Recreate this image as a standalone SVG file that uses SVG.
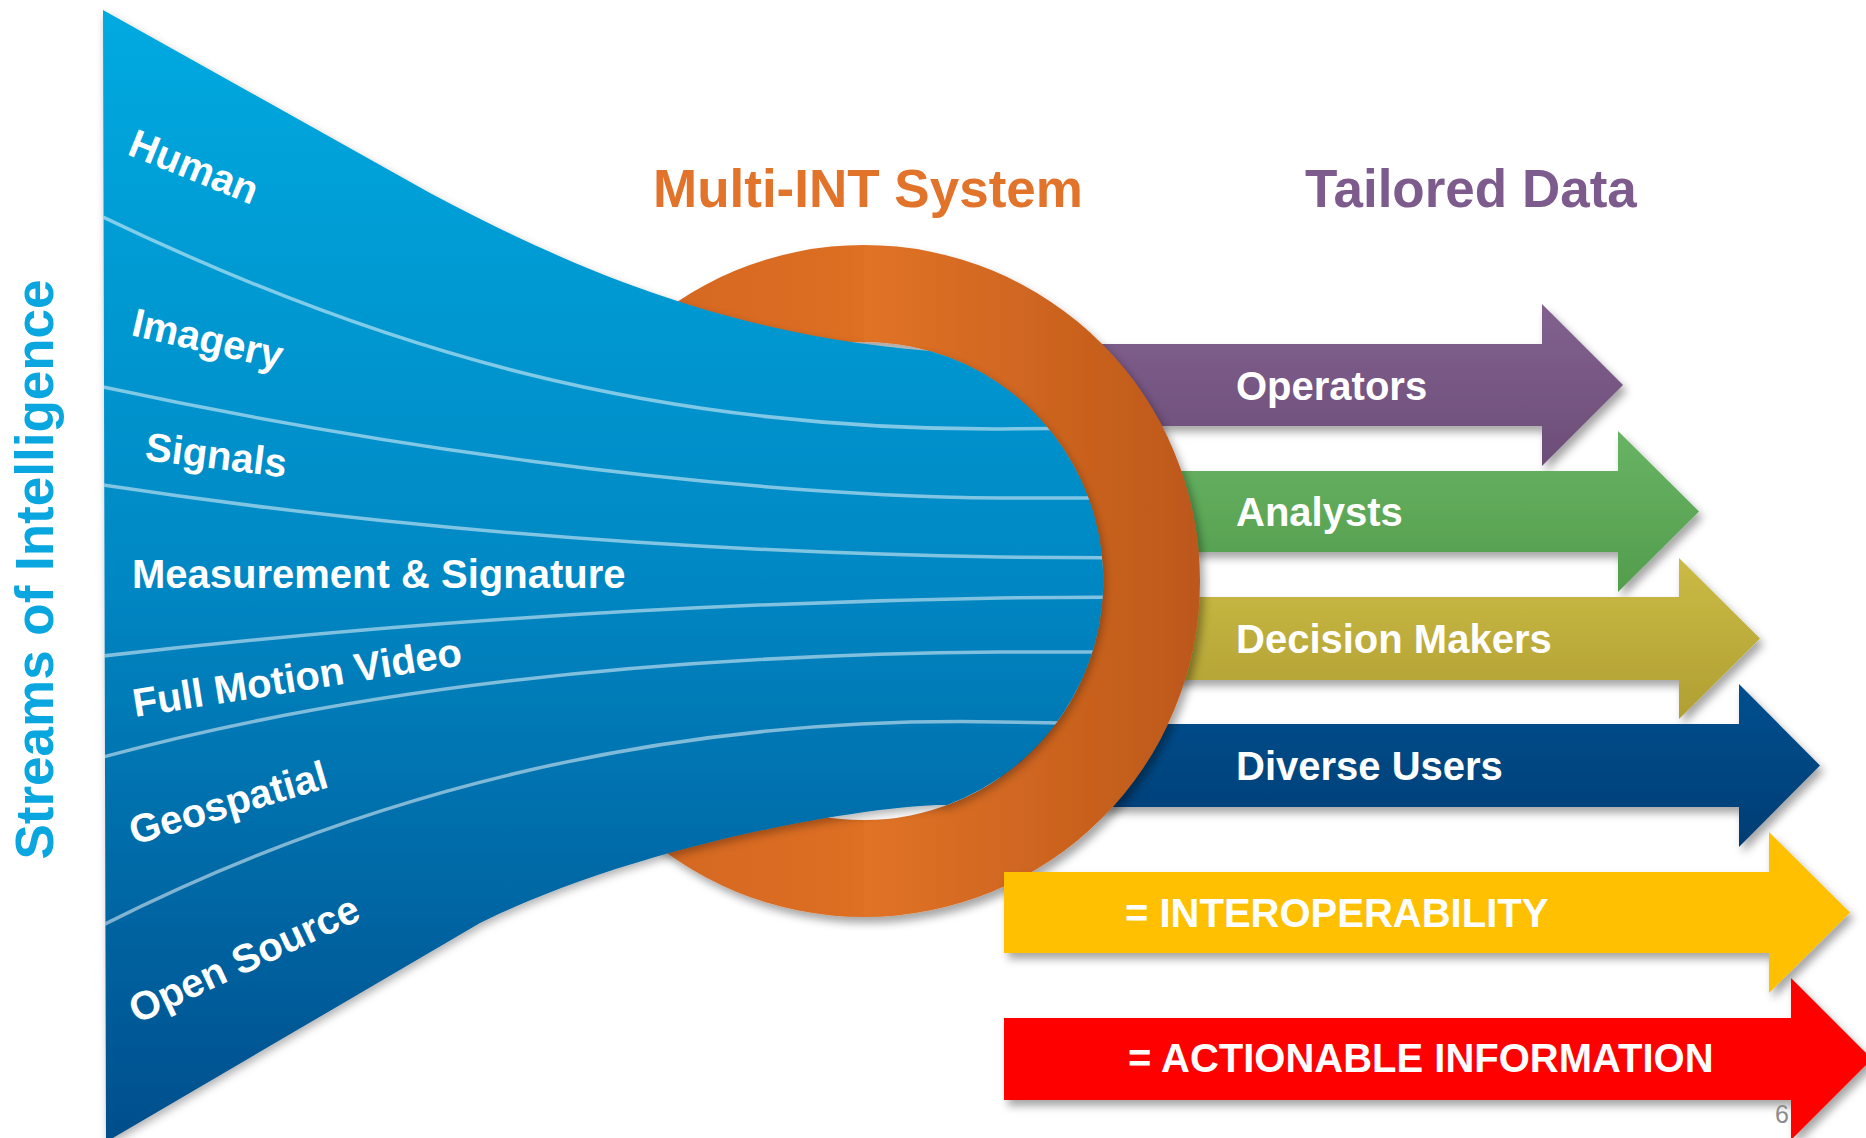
<svg xmlns="http://www.w3.org/2000/svg" width="1866" height="1138" viewBox="0 0 1866 1138">
  <style>
    .lbl { font-family: "Liberation Sans", Arial, sans-serif; font-weight: bold; fill: #FFFFFF; font-size: 40px; }
    .title { font-family: "Liberation Sans", Arial, sans-serif; font-weight: bold; font-size: 53px; }
    .stream { fill: none; stroke: #FFFFFF; stroke-opacity: 0.5; stroke-width: 3.5; }
  </style>
  <defs>
    <linearGradient id="gFunnel" x1="0" y1="10" x2="0" y2="1138" gradientUnits="userSpaceOnUse">
      <stop offset="0" stop-color="#00AAE0"/>
      <stop offset="0.5" stop-color="#0088C4"/>
      <stop offset="1" stop-color="#004E8C"/>
    </linearGradient>
    <linearGradient id="gRingL" x1="528" y1="0" x2="864" y2="0" gradientUnits="userSpaceOnUse">
      <stop offset="0" stop-color="#D0641F"/>
      <stop offset="1" stop-color="#DD6F24"/>
    </linearGradient>
    <linearGradient id="gRingR" x1="864" y1="0" x2="1200" y2="0" gradientUnits="userSpaceOnUse">
      <stop offset="0" stop-color="#E17326"/>
      <stop offset="1" stop-color="#BC581A"/>
    </linearGradient>
    <linearGradient id="gPurple" x1="0" y1="0" x2="0" y2="1">
      <stop offset="0" stop-color="#82618F"/>
      <stop offset="1" stop-color="#6C4D78"/>
    </linearGradient>
    <linearGradient id="gGreen" x1="0" y1="0" x2="0" y2="1">
      <stop offset="0" stop-color="#68B464"/>
      <stop offset="1" stop-color="#539D4D"/>
    </linearGradient>
    <linearGradient id="gOlive" x1="0" y1="0" x2="0" y2="1">
      <stop offset="0" stop-color="#CBBB45"/>
      <stop offset="1" stop-color="#B09F32"/>
    </linearGradient>
    <linearGradient id="gNavy" x1="0" y1="0" x2="0" y2="1">
      <stop offset="0" stop-color="#00508F"/>
      <stop offset="1" stop-color="#003D74"/>
    </linearGradient>
    <filter id="shadow" x="-10%" y="-10%" width="125%" height="130%">
      <feDropShadow dx="4" dy="6" stdDeviation="4" flood-color="#000000" flood-opacity="0.35"/>
    </filter>
    <filter id="shadowSoft" x="-10%" y="-10%" width="125%" height="125%">
      <feDropShadow dx="2" dy="4" stdDeviation="4" flood-color="#000000" flood-opacity="0.3"/>
    </filter>
    <path id="funnelShape" d="M103,10 L430,193 C560,262 720,335 930,351 A239,239 0 0 1 947,805 C880,804 650,840 480,923 L106,1142 Z"/>
    <clipPath id="funnelClip">
      <use href="#funnelShape"/>
    </clipPath>
  </defs>

  <rect x="0" y="0" width="1866" height="1138" fill="#FFFFFF"/>

  <!-- Tailored data arrows (behind ring) -->
  <g id="arrow-operators" filter="url(#shadow)">
    <path d="M1000,344 H1542 V304 L1623,385 L1542,466 V426 H1000 Z" fill="url(#gPurple)"/>
  </g>
  <g id="arrow-analysts" filter="url(#shadow)">
    <path d="M1000,471 H1618 V431 L1699,511.5 L1618,592 V552 H1000 Z" fill="url(#gGreen)"/>
  </g>
  <g id="arrow-decision" filter="url(#shadow)">
    <path d="M1000,597 H1679 V558 L1760,638.5 L1679,719 V680 H1000 Z" fill="url(#gOlive)"/>
  </g>
  <g id="arrow-diverse" filter="url(#shadow)">
    <path d="M1000,724 H1739 V684 L1820,765.5 L1739,847 V807 H1000 Z" fill="url(#gNavy)"/>
  </g>

  <!-- Multi-INT ring -->
  <g id="ring" filter="url(#shadow)">
    <path d="M864,245 A336,336 0 0 0 864,917 L864,820 A239,239 0 0 1 864,342 Z" fill="url(#gRingL)"/>
    <path d="M864,245 A336,336 0 0 1 864,917 L864,820 A239,239 0 0 0 864,342 Z" fill="url(#gRingR)"/>
  </g>

  <!-- Funnel of intelligence streams -->
  <g id="funnel">
    <use href="#funnelShape" fill="url(#gFunnel)" filter="url(#shadowSoft)"/>
    <g clip-path="url(#funnelClip)">
      <path class="stream" d="M103,217 C380,350 650,430 1000,429 L1120,428"/>
      <path class="stream" d="M103,387 C350,440 700,495 1000,498 L1120,498"/>
      <path class="stream" d="M103,485 C400,530 700,552 1000,557 L1120,558"/>
      <path class="stream" d="M103,656 C400,622 700,603 1000,598 L1120,597"/>
      <path class="stream" d="M103,757 C350,690 650,655 1000,652 L1120,652"/>
      <path class="stream" d="M103,925 C350,800 650,715 1000,722 L1120,724"/>
    </g>
  </g>

  <g id="label-human"><text class="lbl" transform="translate(126,154) rotate(22)">Human</text></g>
  <g id="label-imagery"><text class="lbl" transform="translate(130,335) rotate(13)">Imagery</text></g>
  <g id="label-signals"><text class="lbl" transform="translate(144,460) rotate(7)">Signals</text></g>
  <g id="label-measurement"><text class="lbl" x="132" y="588">Measurement &amp; Signature</text></g>
  <g id="label-fmv"><text class="lbl" transform="translate(135,717) rotate(-9)">Full Motion Video</text></g>
  <g id="label-geospatial"><text class="lbl" transform="translate(134,845) rotate(-16.5)">Geospatial</text></g>
  <g id="label-opensource"><text class="lbl" transform="translate(137,1024) rotate(-25)">Open Source</text></g>

  <!-- Arrow labels -->
  <g id="text-operators"><text class="lbl" x="1236" y="400">Operators</text></g>
  <g id="text-analysts"><text class="lbl" x="1236" y="526">Analysts</text></g>
  <g id="text-decision"><text class="lbl" x="1236" y="653">Decision Makers</text></g>
  <g id="text-diverse"><text class="lbl" x="1236" y="780">Diverse Users</text></g>

  <!-- Result arrows (in front of ring) -->
  <g id="arrow-interop" filter="url(#shadow)">
    <path d="M1004,872 H1769 V832 L1850,912.5 L1769,993 V953 H1004 Z" fill="#FEC000"/>
  </g>
  <g id="text-interop"><text class="lbl" x="1125" y="927">= INTEROPERABILITY</text></g>
  <g id="arrow-actionable" filter="url(#shadow)">
    <path d="M1004,1018 H1791 V978 L1872,1059 L1791,1140 V1100 H1004 Z" fill="#FF0000"/>
  </g>
  <g id="text-actionable"><text class="lbl" x="1128" y="1072" font-size="39.5">= ACTIONABLE INFORMATION</text></g>

  <!-- Titles -->
  <g id="title-multiint"><text class="title" x="653" y="207" fill="#E2732A">Multi-INT System</text></g>
  <g id="title-tailored"><text class="title" x="1305" y="207" fill="#7D5B8C">Tailored Data</text></g>
  <g id="title-streams"><text class="title" transform="translate(53,569.5) rotate(-90)" text-anchor="middle" font-size="58" textLength="580" lengthAdjust="spacingAndGlyphs" fill="#0AA6E0">Streams of Intelligence</text></g>

  <g id="page-number"><text x="1775" y="1123" font-family="Liberation Sans, Arial, sans-serif" font-size="25" fill="#8C8C8C">6</text></g>
</svg>
